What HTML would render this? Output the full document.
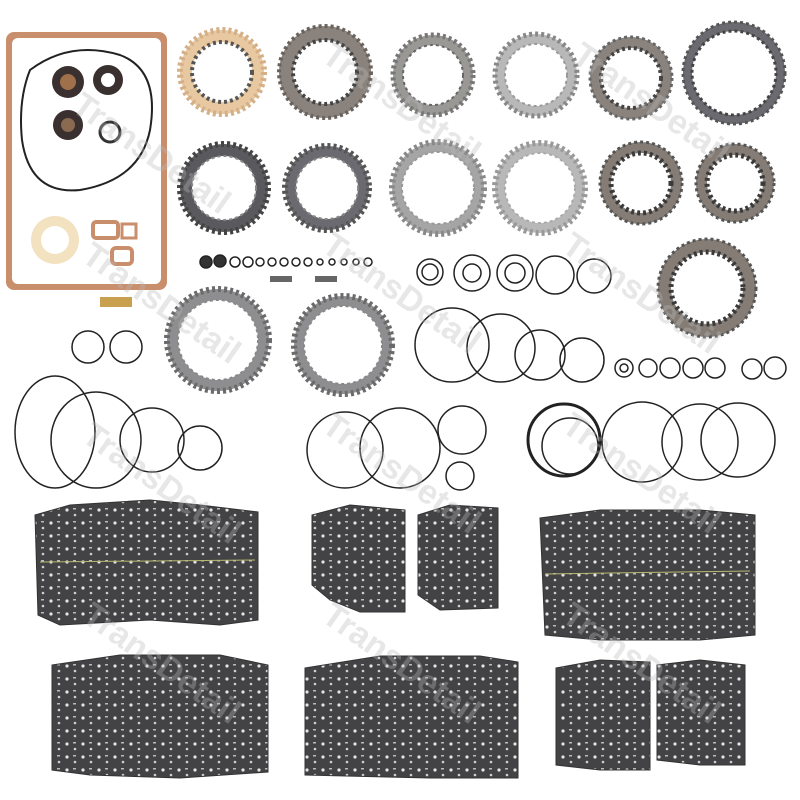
<!DOCTYPE html>
<html><head><meta charset="utf-8"><style>
html,body{margin:0;padding:0;background:#fff;width:800px;height:800px;overflow:hidden}
</style></head><body>
<svg width="800" height="800" viewBox="0 0 800 800" xmlns="http://www.w3.org/2000/svg">
<defs>
<pattern id="holes" width="16" height="13" patternUnits="userSpaceOnUse">
<rect width="16" height="13" fill="#434345"/>
<circle cx="3" cy="3" r="1.6" fill="#e4e4e4"/>
<circle cx="11" cy="8" r="1.3" fill="#d0d0d0"/>
<rect x="9" y="1" width="3" height="1.5" fill="#bbb"/>
</pattern>
</defs>
<rect width="800" height="800" fill="#fff"/>

<rect x="6" y="32" width="161" height="258" rx="8" fill="#c98e6c"/>
<rect x="12" y="38" width="149" height="246" rx="6" fill="#fff"/>
<path d="M30 70 Q70 40 120 55 Q160 70 150 130 Q140 180 80 190 Q30 195 22 140 Q18 100 30 70Z" fill="none" stroke="#222" stroke-width="2"/>
<circle cx="68" cy="82" r="16" fill="#3a3030"/><circle cx="68" cy="82" r="8" fill="#a0704a"/>
<circle cx="108" cy="80" r="15" fill="#3a3030"/><circle cx="108" cy="80" r="7" fill="#fff"/>
<circle cx="68" cy="125" r="15" fill="#3a3030"/><circle cx="68" cy="125" r="7" fill="#8a6a50"/>
<circle cx="110" cy="132" r="10" fill="none" stroke="#333" stroke-width="3"/>
<circle cx="55" cy="240" r="24" fill="#f3e2bf"/><circle cx="55" cy="240" r="14" fill="#fff"/>
<rect x="93" y="222" width="25" height="16" rx="3" fill="none" stroke="#c98e6c" stroke-width="4"/>
<rect x="122" y="224" width="14" height="14" fill="none" stroke="#c98e6c" stroke-width="3"/>
<rect x="112" y="248" width="20" height="16" rx="4" fill="none" stroke="#c98e6c" stroke-width="4"/>
<rect x="100" y="297" width="32" height="10" fill="#c8a050"/>

<g stroke-dasharray="3 3">
<circle cx="222" cy="72" r="42" fill="#e8c8a0" stroke="#d4b088" stroke-width="6"/>
<circle cx="222" cy="72" r="30" fill="#fff" stroke="#555" stroke-width="4"/>
<circle cx="325" cy="72" r="46" fill="#8a827c" stroke="#6a625c" stroke-width="4"/>
<circle cx="325" cy="72" r="32" fill="#fff" stroke="#444" stroke-width="4"/>
<circle cx="433" cy="75" r="40" fill="#9a9895" stroke="#777" stroke-width="5"/>
<circle cx="433" cy="75" r="30" fill="#fff" stroke="#666" stroke-width="2"/>
<circle cx="536" cy="75" r="41" fill="#b8b8b8" stroke="#888" stroke-width="5"/>
<circle cx="536" cy="75" r="31" fill="#fff" stroke="#999" stroke-width="2"/>
<circle cx="631" cy="78" r="41" fill="#8a827c" stroke="#666" stroke-width="3"/>
<circle cx="631" cy="78" r="30" fill="#fff" stroke="#444" stroke-width="4"/>
<circle cx="734" cy="73" r="51" fill="#6a6a70" stroke="#555" stroke-width="3"/>
<circle cx="734" cy="73" r="42" fill="#fff" stroke="#444" stroke-width="3"/>

<circle cx="224" cy="188" r="44" fill="#5a5a5e" stroke="#444" stroke-width="6"/>
<circle cx="224" cy="188" r="32" fill="#fff" stroke="#888" stroke-width="2"/>
<circle cx="327" cy="188" r="42" fill="#6a6a70" stroke="#555" stroke-width="6"/>
<circle cx="327" cy="188" r="31" fill="#fff" stroke="#888" stroke-width="2"/>
<circle cx="438" cy="188" r="46" fill="#a5a5a5" stroke="#888" stroke-width="6"/>
<circle cx="438" cy="188" r="36" fill="#fff" stroke="#999" stroke-width="2"/>
<circle cx="540" cy="188" r="45" fill="#b8b8b8" stroke="#999" stroke-width="6"/>
<circle cx="540" cy="188" r="35" fill="#fff" stroke="#aaa" stroke-width="2"/>
<circle cx="641" cy="183" r="41" fill="#857d75" stroke="#555" stroke-width="3"/>
<circle cx="641" cy="183" r="30" fill="#fff" stroke="#3a3a3a" stroke-width="5"/>
<circle cx="735" cy="183" r="39" fill="#857d75" stroke="#555" stroke-width="3"/>
<circle cx="735" cy="183" r="28" fill="#fff" stroke="#3a3a3a" stroke-width="5"/>
<circle cx="707" cy="288" r="49" fill="#857d75" stroke="#555" stroke-width="3"/>
<circle cx="707" cy="288" r="36" fill="#fff" stroke="#3a3a3a" stroke-width="5"/>
<circle cx="218" cy="340" r="51" fill="#8e8e90" stroke="#6a6a6a" stroke-width="6"/>
<circle cx="218" cy="340" r="40" fill="#fff" stroke="#888" stroke-width="2"/>
<circle cx="343" cy="345" r="49" fill="#8e8e90" stroke="#6a6a6a" stroke-width="6"/>
<circle cx="343" cy="345" r="39" fill="#fff" stroke="#888" stroke-width="2"/>
</g>

<g fill="none" stroke="#222" stroke-width="1.5">
<circle cx="206" cy="262" r="6" fill="#333"/><circle cx="220" cy="261" r="6" fill="#333"/>
<circle cx="235" cy="262" r="5"/><circle cx="248" cy="262" r="5"/><circle cx="260" cy="262" r="4"/>
<circle cx="272" cy="262" r="4"/><circle cx="284" cy="262" r="4"/><circle cx="296" cy="262" r="4"/>
<circle cx="308" cy="262" r="4"/><circle cx="320" cy="262" r="3"/><circle cx="332" cy="262" r="3"/>
<circle cx="344" cy="262" r="3"/><circle cx="356" cy="262" r="3"/><circle cx="368" cy="262" r="4"/>
<circle cx="430" cy="272" r="13"/><circle cx="430" cy="272" r="8"/>
<circle cx="472" cy="273" r="18"/><circle cx="472" cy="273" r="9"/>
<circle cx="515" cy="273" r="18"/><circle cx="515" cy="273" r="10"/>
<circle cx="555" cy="275" r="19"/><circle cx="594" cy="276" r="17"/>
<circle cx="88" cy="347" r="16"/><circle cx="126" cy="347" r="16"/>
<circle cx="452" cy="345" r="37"/><circle cx="501" cy="348" r="34"/><circle cx="540" cy="355" r="25"/><circle cx="582" cy="360" r="22"/>
<circle cx="624" cy="368" r="9"/><circle cx="624" cy="368" r="4"/>
<circle cx="648" cy="368" r="9"/><circle cx="670" cy="368" r="10"/><circle cx="693" cy="368" r="10"/><circle cx="715" cy="368" r="10"/><circle cx="752" cy="369" r="10"/><circle cx="775" cy="368" r="11"/>
<ellipse cx="55" cy="432" rx="40" ry="56"/><ellipse cx="96" cy="440" rx="45" ry="48"/><circle cx="152" cy="440" r="32"/><circle cx="200" cy="448" r="22"/>
<circle cx="345" cy="450" r="38"/><circle cx="400" cy="448" r="40"/><circle cx="462" cy="430" r="24"/><circle cx="460" cy="476" r="14"/>
<circle cx="564" cy="440" r="36" stroke-width="3"/><circle cx="570" cy="446" r="28"/>
<circle cx="642" cy="442" r="40"/><circle cx="700" cy="442" r="38"/><circle cx="738" cy="440" r="37"/>
</g>
<rect x="270" y="276" width="22" height="6" fill="#666"/><rect x="315" y="276" width="22" height="6" fill="#666"/>

<g fill="url(#holes)" stroke="#333" stroke-width="1">
<path d="M35 515 L70 505 L150 500 L200 505 L258 512 L258 620 L220 625 L150 620 L60 625 L38 615Z"/>
<path d="M312 515 L350 505 L405 510 L405 612 L360 612 L330 600 L312 585Z"/>
<path d="M418 515 L450 505 L498 508 L498 608 L440 610 L418 595Z"/>
<path d="M540 518 L600 510 L700 510 L755 515 L755 635 L700 640 L600 640 L545 635Z"/>
<path d="M52 665 L120 655 L220 655 L268 665 L268 772 L180 778 L90 775 L52 770Z"/>
<path d="M305 668 L380 656 L480 656 L518 662 L518 778 L430 778 L305 775Z"/>
<path d="M556 668 L600 660 L650 662 L650 770 L600 770 L556 765Z"/>
<path d="M657 665 L700 660 L745 665 L745 765 L700 765 L657 760Z"/>
</g>
<line x1="40" y1="562" x2="255" y2="560" stroke="#b8b870" stroke-width="1"/>
<line x1="545" y1="574" x2="750" y2="571" stroke="#b8b870" stroke-width="1"/>

<g fill="#bbb" fill-opacity="0.35" font-family="Liberation Sans, sans-serif" font-weight="bold" font-size="34">
<text transform="translate(70,110) rotate(35)">TransDetail</text>
<text transform="translate(320,60) rotate(35)">TransDetail</text>
<text transform="translate(570,60) rotate(35)">TransDetail</text>
<text transform="translate(80,260) rotate(35)">TransDetail</text>
<text transform="translate(320,250) rotate(35)">TransDetail</text>
<text transform="translate(560,250) rotate(35)">TransDetail</text>
<text transform="translate(80,440) rotate(35)">TransDetail</text>
<text transform="translate(320,430) rotate(35)">TransDetail</text>
<text transform="translate(560,430) rotate(35)">TransDetail</text>
<text transform="translate(80,620) rotate(35)">TransDetail</text>
<text transform="translate(320,620) rotate(35)">TransDetail</text>
<text transform="translate(560,620) rotate(35)">TransDetail</text>
</g>
</svg>
</body></html>
